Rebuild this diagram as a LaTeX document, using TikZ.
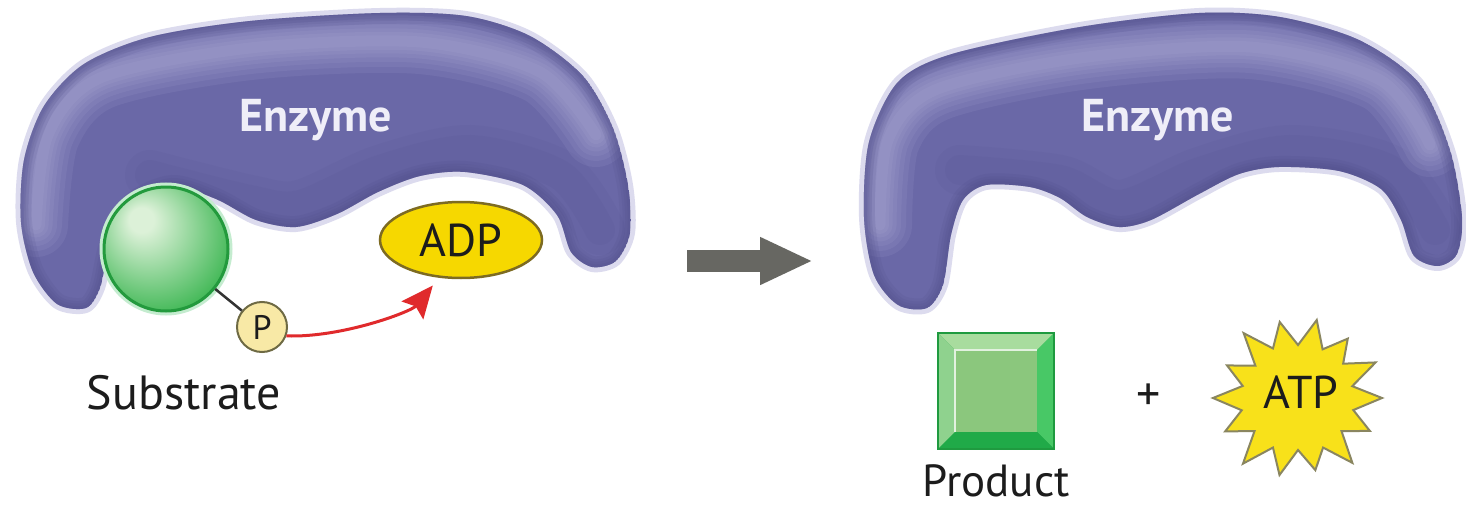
\documentclass[tikz,border=0pt]{standalone}
\usepackage{fontspec}
\setmainfont{PT Sans}
\usetikzlibrary{arrows.meta,shapes.geometric,calc}

\definecolor{enz}{HTML}{6A68A7}
\definecolor{enzhl}{HTML}{B8B6DE}
\definecolor{enzdk}{HTML}{4A4882}
\definecolor{enzhalo}{HTML}{DCDBEE}
\definecolor{enztext}{HTML}{EFEEF8}
\definecolor{gedge}{HTML}{239A3D}
\definecolor{gmid}{HTML}{3FB754}
\definecolor{ghl}{HTML}{DCF1D8}
\definecolor{ghalo}{HTML}{C4ECCF}
\definecolor{pfill}{HTML}{F8E9A6}
\definecolor{pedge}{HTML}{6E6A44}
\definecolor{adpfill}{HTML}{F6D800}
\definecolor{adpedge}{HTML}{7D6B22}
\definecolor{arrgray}{HTML}{676762}
\definecolor{rxnred}{HTML}{E02A2C}
\definecolor{txt}{HTML}{1C1C1C}
\definecolor{sqedge}{HTML}{1F9A3F}
\definecolor{sqface}{HTML}{8BC77D}
\definecolor{sqtop}{HTML}{A8DC9E}
\definecolor{sqleft}{HTML}{8FD28E}
\definecolor{sqright}{HTML}{48C866}
\definecolor{sqbot}{HTML}{20AA48}
\definecolor{starfill}{HTML}{F8E11A}
\definecolor{staredge}{HTML}{8A8660}

\pgfdeclareradialshading{greenball}{\pgfpoint{-11bp}{13bp}}{%
  color(0bp)=(ghl); color(5bp)=(ghl); color(32bp)=(gmid); color(50bp)=(gmid)}

% enzyme outlines (pixel grid, y pointing down)
\def\enzLpath{plot[smooth cycle] coordinates {(57,304) (33,272) (21,222) (24,160) (44,106) (84,64) (150,37) (250,21) (380,13) (466,16) (530,36) (583,76) (613,128) (628,185) (630,233) (616,261) (592,267) (571,252) (557,215) (523,185) (465,172) (420,176) (378,192) (337,214) (296,227) (256,220) (216,199) (172,186) (132,204) (110,245) (100,288) (86,308)}}
\def\enzLhl{plot[smooth] coordinates {(36,225) (48,135) (100,78) (250,48) (420,42) (540,72) (596,135)}}
\def\enzLdk{plot[smooth] coordinates {(150,175) (250,200) (300,205) (380,170) (470,150) (560,175) (600,230)}}
\def\enzRpath{plot[smooth cycle] coordinates {(898,305) (874,275) (864,217) (869,142) (898,82) (952,54) (1080,27) (1199,13) (1280,17) (1359,40) (1419,83) (1450,150) (1462,217) (1457,254) (1438,266) (1414,256) (1401,220) (1381,189) (1339,171) (1279,167) (1239,174) (1199,194) (1151,220) (1119,227) (1087,217) (1060,198) (1030,187) (986,185) (963,200) (951,235) (943,285) (927,308)}}
\def\enzRhl{plot[smooth] coordinates {(880,225) (888,140) (935,90) (1080,58) (1250,47) (1380,80) (1430,145)}}
\def\enzRdk{plot[smooth] coordinates {(960,170) (1060,180) (1120,205) (1200,172) (1290,150) (1390,170) (1435,230)}}

% a shaded enzyme body: #1 outline, #2 highlight line, #3 shadow line
\newcommand\drawenzyme[3]{%
  \draw[enzhalo, line width=10pt, line join=round] #1;
  \begin{scope}
    \clip #1;
    \fill[enz] #1;
    \draw[enzdk, line width=50pt, opacity=.08, line cap=round] #3;
    \draw[enzdk, line width=30pt, opacity=.08, line cap=round] #3;
    \foreach \w in {64,52,42,33,25,18,11}
      \draw[enzhl, line width=\w pt, opacity=.11, line cap=round] #2;
    \foreach \w in {22,16,11,6}
      \draw[enzdk, line width=\w pt, opacity=.12] #1;
  \end{scope}}

\tikzset{
  lab/.style={text=txt, font=\fontsize{48}{50}\selectfont, inner sep=0pt},
  enzlabel/.style={text=enztext, font=\bfseries\fontsize{46}{48}\selectfont, inner sep=0pt},
  subball/.style={circle, minimum size=124pt, inner sep=0pt, shading=greenball,
    draw=gedge, line width=3pt, preaction={draw=ghalo, line width=9pt}},
  phos/.style={circle, minimum size=50pt, inner sep=0pt, fill=pfill, draw=pedge,
    line width=2pt, text=txt, font=\fontsize{34}{36}\selectfont},
  adpnode/.style={ellipse, minimum width=162pt, minimum height=76pt, inner sep=0pt,
    fill=adpfill, draw=adpedge, line width=2.5pt, text=txt, font=\fontsize{46}{48}\selectfont},
  bond/.style={draw=black!80, line width=2.5pt},
  rxnarrow/.style={draw=rxnred, line width=3pt, shorten >=10pt,
    -{Stealth[length=32pt, width=28pt, inset=5pt]}},
  bigarrow/.style={draw=arrgray, line width=22pt, -{Triangle[length=53pt, width=44pt]}},
  starshape/.style={fill=starfill, draw=staredge, line width=2pt, line join=miter},
}

\begin{document}
\begin{tikzpicture}[x=1pt, y=-1pt]
\useasboundingbox[fill=white] (0,0) rectangle (1466,508);

% ---- enzyme with bound substrate ----
\drawenzyme{\enzLpath}{\enzLhl}{\enzLdk}
\node[enzlabel] (enzL) at (316,120) {Enzyme};

\node[subball] (sub) at (166,249) {};
\node[phos] (P) at (262,327) {P};
\draw[bond] (sub) -- (P);
\node[adpnode] (ADP) at (461,240) {ADP};
\draw[rxnarrow] (P.-20) .. controls +(55,2) and +(-28,34) .. (ADP.240);
\node[lab] (subst) at (184,393) {Substrate};

% ---- reaction arrow ----
\coordinate (arrS) at (687,261);
\coordinate (arrE) at (813,261);
\draw[bigarrow] (arrS) -- (arrE);

% ---- free enzyme and products ----
\drawenzyme{\enzRpath}{\enzRhl}{\enzRdk}
\node[enzlabel] (enzR) at (1158,120) {Enzyme};

% bevelled product block
\node[minimum size=116pt, inner sep=0pt, fill=sqbot] (prod) at (996,391) {};
\begin{scope}[shift={(prod.center)}]
  \fill[sqtop] (-58,-58) -- (58,-58) -- (41,-41) -- (-41,-41) -- cycle;
  \fill[sqleft] (-58,-58) -- (-41,-41) -- (-41,41) -- (-58,58) -- cycle;
  \fill[sqright] (58,-58) -- (58,58) -- (41,41) -- (41,-41) -- cycle;
  \fill[sqbot] (-58,58) -- (58,58) -- (41,41) -- (-41,41) -- cycle;
  \fill[sqface] (-41,-41) rectangle (41,41);
  \draw[white!75!sqface, line width=2pt] (-41,41) -- (-41,-41) -- (41,-41);
\end{scope}
\draw[sqedge, line width=1.5pt] (prod.north west) rectangle (prod.south east);
\node[lab, font=\fontsize{45}{47}\selectfont, text depth=0pt] (prodlab) at (996,481) {Product};

\node[lab] (plus) at (1149,397) {+};

% ATP burst
\coordinate (atpc) at (1298,398);
\begin{scope}[shift={(atpc)}, xscale=1.05]
  \draw[starshape] (0:80) -- (12.9:54) -- (25.7:76) -- (38.6:53) -- (51.4:83) -- (64.3:55)
    -- (77.1:74) -- (90:52) -- (102.9:79) -- (115.7:55) -- (128.6:84) -- (141.4:53)
    -- (154.3:77) -- (167.1:55) -- (180:81) -- (192.9:54) -- (205.7:75) -- (218.6:52)
    -- (231.4:83) -- (244.3:55) -- (257.1:78) -- (270:53) -- (282.9:80) -- (295.7:54)
    -- (308.6:76) -- (321.4:55) -- (334.3:82) -- (347.1:53) -- cycle;
\end{scope}
\node[text=txt, font=\fontsize{46}{48}\selectfont, inner sep=0pt] (atp) at (1301,392) {ATP};

\end{tikzpicture}
\end{document}
